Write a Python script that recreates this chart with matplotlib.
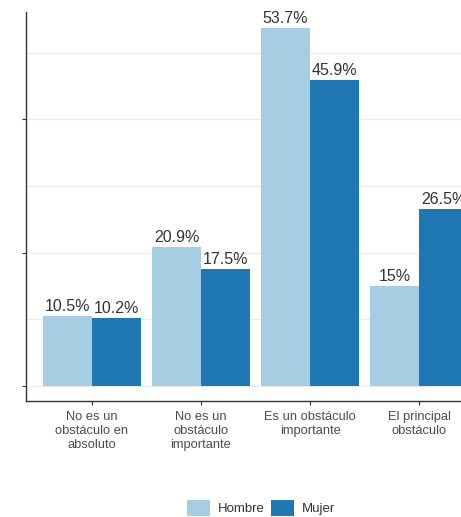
import matplotlib
matplotlib.use("Agg")
import matplotlib.pyplot as plt
from matplotlib.patches import Patch
import numpy as np

plt.rcParams['font.family'] = ['Liberation Sans', 'DejaVu Sans']

categories = ["No es un\nobstáculo en\nabsoluto", "No es un\nobstáculo\nimportante",
              "Es un obstáculo\nimportante", "El principal\nobstáculo"]
series_names = ["Hombre", "Mujer"]
hombre = [10.5, 20.9, 53.7, 15.0]
mujer = [10.2, 17.5, 45.9, 26.5]
hombre_labels = ["10.5%", "20.9%", "53.7%", "15%"]
mujer_labels = ["10.2%", "17.5%", "45.9%", "26.5%"]
colors = ["#a6cee3", "#1f78b4"]

W, H = 461, 517
fig = plt.figure(figsize=(W / 100, H / 100), dpi=100)
ax = fig.add_axes([26 / W, 1 - 401 / H, (W - 26) / W, (401 - 12) / H])

x = np.arange(1, len(categories) + 1)
bw = 0.45
for vals, labs, col, off in [(hombre, hombre_labels, colors[0], -bw / 2),
                             (mujer, mujer_labels, colors[1], bw / 2)]:
    ax.bar(x + off, vals, width=bw, color=col, zorder=2)
    for xi, v, lab in zip(x + off, vals, labs):
        ax.text(xi, v + 0.3, lab, ha="center", va="bottom", fontsize=11.5,
                color="#333333", zorder=3)

ax.set_xlim(0.395, 4.385)
ax.set_ylim(-2.25, 56.1)

ax.set_yticks([0, 20, 40])
ax.set_yticklabels([])
ax.set_yticks([10, 30, 50], minor=True)
ax.grid(True, which="both", axis="y", color="#ebebeb", linewidth=0.8, zorder=0)
ax.tick_params(axis="y", which="major", length=3, color="#333333", width=0.8)
ax.tick_params(axis="y", which="minor", length=0)

ax.set_xticks(x)
ax.set_xticklabels(categories, fontsize=9.3, color="#4d4d4d", linespacing=1.25)
ax.tick_params(axis="x", length=3, color="#333333", width=0.8, pad=4)

for s in ["top", "right"]:
    ax.spines[s].set_visible(False)
for s in ["left", "bottom"]:
    ax.spines[s].set_color("#333333")
    ax.spines[s].set_linewidth(1.0)

handles = [Patch(facecolor=c, edgecolor="none") for c in colors]
fig.legend(handles, series_names, loc="center", bbox_to_anchor=(261 / W, 1 - 508 / H),
           ncol=2, frameon=False, fontsize=9.5, handlelength=1.75, handleheight=1.6,
           handletextpad=0.6, columnspacing=0.45, labelcolor="#333333",
           borderpad=0.0)

fig.savefig("out.png", dpi=100)
